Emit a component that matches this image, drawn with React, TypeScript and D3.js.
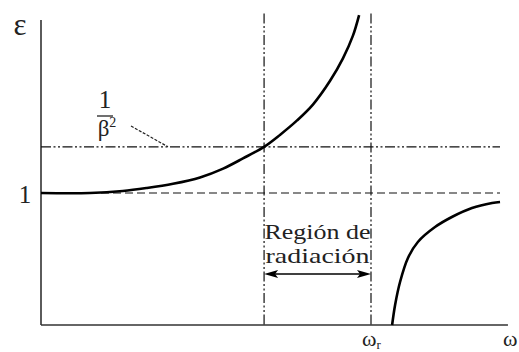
import React from "react";
import * as d3 from "d3";

// Permittivity curve ε(ω): branch below the resonance and branch above it
const lowerOmega = [0, 0.148, 0.248, 0.321, 0.4, 0.482, 0.552, 0.612, 0.676, 0.724, 0.776, 0.824, 0.876, 0.915, 0.945, 0.964];
const lowerEps = [1.0, 1.0, 1.015, 1.038, 1.07, 1.118, 1.185, 1.262, 1.35, 1.44, 1.55, 1.67, 1.85, 2.02, 2.19, 2.348];
const upperOmega = [1.064, 1.073, 1.088, 1.112, 1.142, 1.194, 1.245, 1.306, 1.367, 1.391];
const upperEps = [0, 0.152, 0.326, 0.508, 0.629, 0.742, 0.818, 0.886, 0.924, 0.932];

// Reference levels and markers
const epsOne = 1;
const invBeta2 = 1.35;
const omegaCherenkov = 0.676; // where ε = 1/β²
const omegaR = 1;
const omegaMax = 1.415;
const epsMax = 2.36;
const lineEnd = 1.391;

const regionLines = ["Región de", "radiación"];

export default function App() {
  const W = 519;
  const H = 352;
  const x = d3.scaleLinear().domain([0, 1]).range([41, 371]);
  const y = d3.scaleLinear().domain([0, 1]).range([325, 193]);

  const line = d3
    .line<[number, number]>()
    .x((d) => x(d[0]))
    .y((d) => y(d[1]))
    .curve(d3.curveCatmullRom.alpha(0.5));

  const lowerPts = lowerOmega.map((w, i) => [w, lowerEps[i]] as [number, number]);
  const upperPts = upperOmega.map((w, i) => [w, upperEps[i]] as [number, number]);

  const dashDotDot = "10,2.5,2,2.5,2,2.5";
  const ink = "#111";
  const serif = "'Liberation Serif', 'Times New Roman', serif";

  const arrowY = 274;
  const ax0 = x(omegaCherenkov);
  const ax1 = x(omegaR);

  return (
    <svg
      width={W}
      height={H}
      style={{ position: "absolute", left: 0, top: 0, background: "#fff" }}
      fontFamily={serif}
    >
      {/* axes */}
      <line x1={x(0)} y1={y(2.31)} x2={x(0)} y2={y(0)} stroke="#333" strokeWidth={1.6} />
      <line x1={x(0)} y1={y(0)} x2={x(omegaMax)} y2={y(0)} stroke="#333" strokeWidth={1.6} />

      {/* ε = 1 */}
      <line x1={x(0)} y1={y(epsOne)} x2={x(lineEnd)} y2={y(epsOne)} stroke={ink} strokeWidth={1.2} strokeDasharray="8,4" />
      {/* ε = 1/β² */}
      <line x1={x(0)} y1={y(invBeta2)} x2={x(lineEnd)} y2={y(invBeta2)} stroke={ink} strokeWidth={1.2} strokeDasharray={dashDotDot} />
      {/* vertical markers */}
      <line x1={x(omegaCherenkov)} y1={y(epsMax)} x2={x(omegaCherenkov)} y2={y(0)} stroke={ink} strokeWidth={1.2} strokeDasharray={dashDotDot} />
      <line x1={x(omegaR)} y1={y(epsMax)} x2={x(omegaR)} y2={y(0)} stroke={ink} strokeWidth={1.2} strokeDasharray={dashDotDot} />

      {/* curve */}
      <path d={line(lowerPts) || ""} fill="none" stroke="#000" strokeWidth={2.6} />
      <path d={line(upperPts) || ""} fill="none" stroke="#000" strokeWidth={2.6} />

      {/* radiation region arrow */}
      <line x1={ax0 + 6} y1={arrowY} x2={ax1 - 6} y2={arrowY} stroke="#000" strokeWidth={1.4} />
      <path d={`M${ax0},${arrowY} L${ax0 + 14},${arrowY - 4} L${ax0 + 11},${arrowY} L${ax0 + 14},${arrowY + 4} Z`} fill="#000" />
      <path d={`M${ax1},${arrowY} L${ax1 - 14},${arrowY - 4} L${ax1 - 11},${arrowY} L${ax1 - 14},${arrowY + 4} Z`} fill="#000" />

      {regionLines.map((t, i) => (
        <text
          key={t}
          x={(ax0 + ax1) / 2}
          y={239 + i * 24}
          fontSize={21}
          textAnchor="middle"
          textLength={i === 0 ? 106 : 104}
          lengthAdjust="spacingAndGlyphs"
          fill="#222"
        >
          {t}
        </text>
      ))}

      {/* axis labels */}
      <text x={20} y={35} fontSize={31} textAnchor="middle" fill="#222">ε</text>
      <text x={25} y={203} fontSize={25} textAnchor="middle" fill="#222">1</text>
      <text x={362} y={346} fontSize={22} fill="#222">
        ω<tspan fontSize={13} dy={3}>r</tspan>
      </text>
      <text x={503} y={346} fontSize={22} fill="#222">ω</text>

      {/* 1/β² label with leader */}
      <text x={105} y={108} fontSize={25} textAnchor="middle" fill="#222">1</text>
      <line x1={97} y1={116} x2={113} y2={116} stroke="#222" strokeWidth={1.3} />
      <text x={107} y={136} fontSize={23} textAnchor="middle" fill="#222">
        β<tspan fontSize={14} dy={-9}>2</tspan>
      </text>
      <line x1={131} y1={126} x2={168} y2={y(invBeta2)} stroke="#222" strokeWidth={1.2} strokeDasharray="3,1.5" />
    </svg>
  );
}
